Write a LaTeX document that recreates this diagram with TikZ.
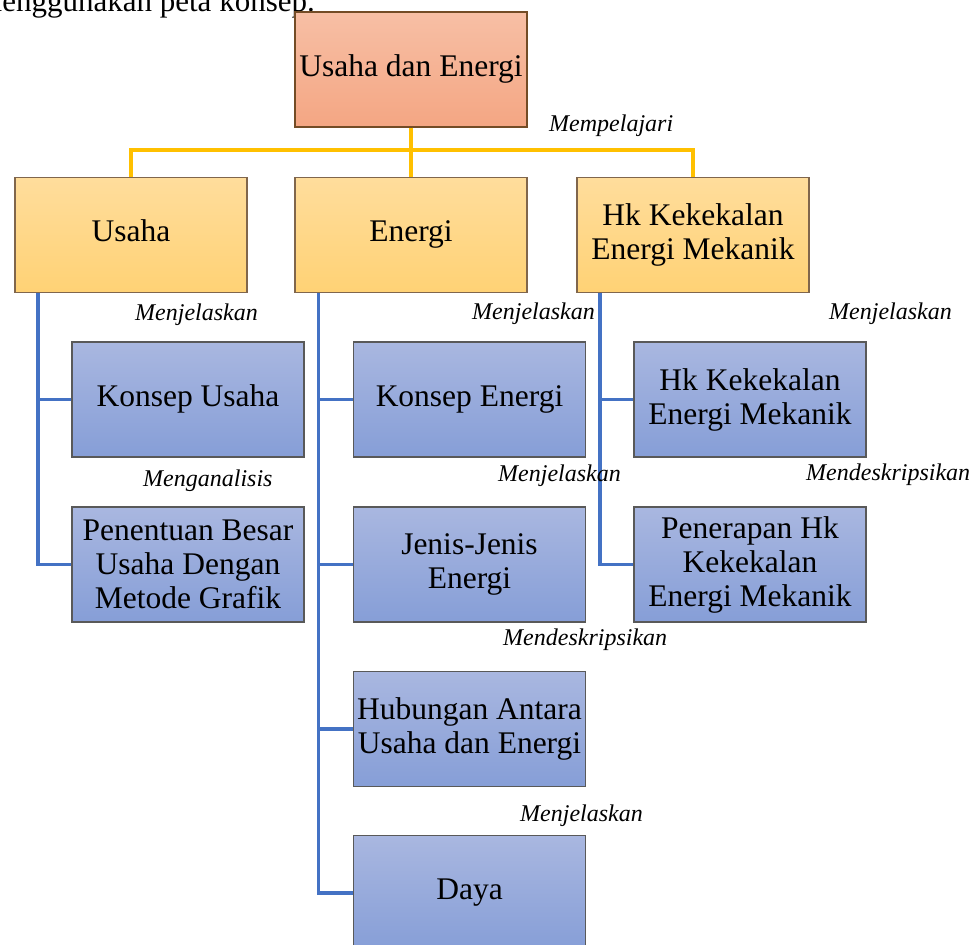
\documentclass[tikz,border=0pt]{standalone}
\usepackage{fontspec}
\setmainfont{Liberation Serif}
\usepackage{tikz}
\usetikzlibrary{positioning}

\definecolor{topA}{HTML}{F7BFA5}
\definecolor{topB}{HTML}{F4A683}
\definecolor{yelA}{HTML}{FFDD9C}
\definecolor{yelB}{HTML}{FFD275}
\definecolor{bluA}{HTML}{A9B7E0}
\definecolor{bluB}{HTML}{869ED7}
\definecolor{lineY}{HTML}{FFC000}
\definecolor{lineB}{HTML}{4472C4}

\begin{document}
\begin{tikzpicture}[x=1pt, y=-1pt,
    box/.style={rectangle, draw=black!65, line width=1.2pt, minimum width=232pt,
        minimum height=115pt, inner sep=0pt, align=center,
        font=\fontsize{31.5}{34}\selectfont},
    topbox/.style={box, shading=axis, top color=topA, bottom color=topB, draw=brown!60!black},
    mainbox/.style={box, shading=axis, top color=yelA, bottom color=yelB, draw=brown!50!black!80},
    subbox/.style={box, shading=axis, top color=bluA, bottom color=bluB},
    verb/.style={anchor=base west, inner sep=0pt, font=\fontsize{24}{26}\selectfont\itshape},
    linkY/.style={draw=lineY, line width=3.2pt},
    linkB/.style={draw=lineB, line width=3.2pt}]
                        \useasboundingbox (0,0) rectangle (980,945);
                        \clip (0,0) rectangle (980,945);

                        \node[anchor=base east, inner sep=0pt, font=\fontsize{31}{34}\selectfont] (intro) at (315, 11) {menggunakan peta konsep.};

                        \node[topbox] (top) at (411, 69.5) {\strut Usaha dan Energi};

                        \node[mainbox] (usaha) at (131, 235) {\strut Usaha};
                        \node[mainbox] (energi) at (411, 235) {\strut Energi};
                        \node[mainbox] (hukum) at (693, 235) {Hk Kekekalan\\Energi Mekanik};

                        \node[subbox] (konsepU) at (188, 399.5) {\strut Konsep Usaha};
                        \node[subbox] (penentuan) at (188, 564.5) {Penentuan Besar\\Usaha Dengan\\Metode Grafik};
                        \node[subbox] (konsepE) at (469.5, 399.5) {\strut Konsep Energi};
                        \node[subbox] (jenis) at (469.5, 564.5) {Jenis-Jenis\\Energi};
                        \node[subbox] (hubungan) at (469.5, 729) {Hubungan Antara\\Usaha dan Energi};
                        \node[subbox] (daya) at (469.5, 893) {\strut Daya};
                        \node[subbox] (hkBiru) at (750, 399.5) {Hk Kekekalan\\Energi Mekanik};
                        \node[subbox] (penerapan) at (750, 564.5) {Penerapan Hk\\Kekekalan\\Energi Mekanik};

                        \draw[linkY] (top) -- (energi);
                        \draw[linkY] (usaha.north) -- ++(0, -27) -| (hukum.north);

                        \draw[linkB] (usaha.south west) ++(23.5, 0) |- (konsepU.west);
                        \draw[linkB] (usaha.south west) ++(23.5, 0) |- (penentuan.west);
                        \draw[linkB] (energi.south west) ++(24, 0) |- (konsepE.west);
                        \draw[linkB] (energi.south west) ++(24, 0) |- (jenis.west);
                        \draw[linkB] (energi.south west) ++(24, 0) |- (hubungan.west);
                        \draw[linkB] (energi.south west) ++(24, 0) |- (daya.west);
                        \draw[linkB] (hukum.south west) ++(23.5, 0) |- (hkBiru.west);
                        \draw[linkB] (hukum.south west) ++(23.5, 0) |- (penerapan.west);

                        \node[verb] (v1) at (549, 131) {Mempelajari};
                        \node[verb] (v2) at (135, 320) {Menjelaskan};
                        \node[verb] (v3) at (472, 319) {Menjelaskan};
                        \node[verb] (v4) at (829, 319) {Menjelaskan};
                        \node[verb] (v5) at (143, 486) {Menganalisis};
                        \node[verb] (v6) at (498, 481) {Menjelaskan};
                        \node[verb] (v7) at (806, 480) {Mendeskripsikan};
                        \node[verb] (v8) at (503, 645) {Mendeskripsikan};
                        \node[verb] (v9) at (520, 821) {Menjelaskan};
                    \end{tikzpicture}
\end{document}
